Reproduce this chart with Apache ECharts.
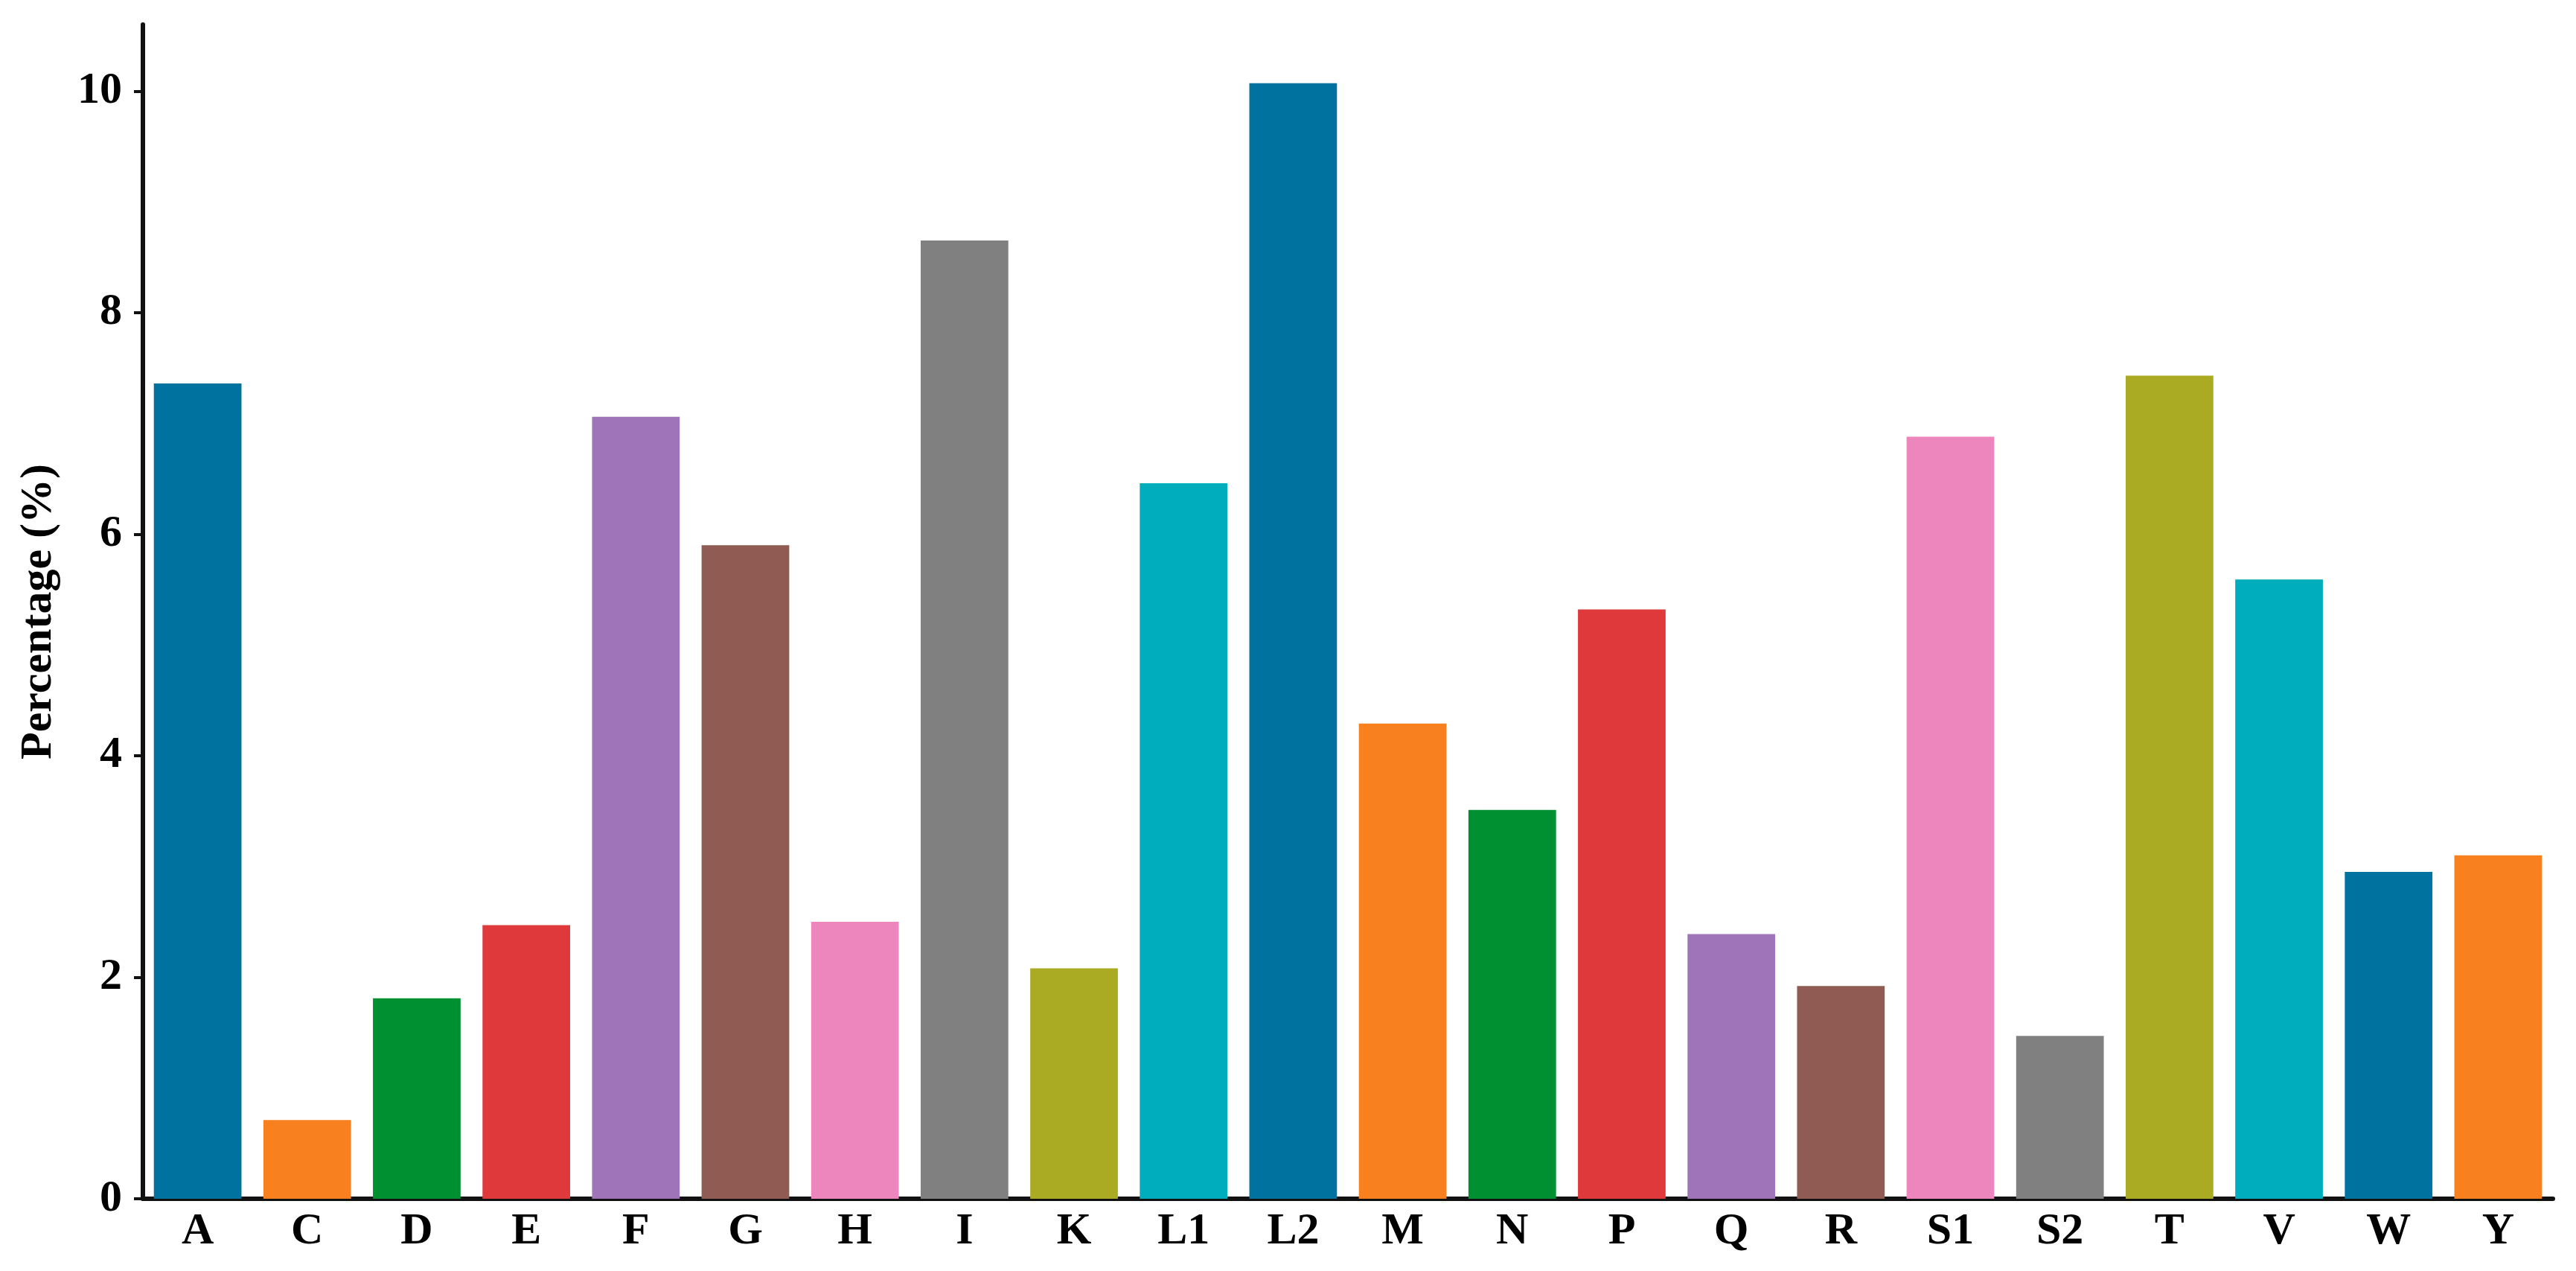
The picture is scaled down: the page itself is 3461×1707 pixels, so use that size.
<!DOCTYPE html>
<html>
<head>
<meta charset="utf-8">
<script src="https://cdn.jsdelivr.net/npm/echarts@6/dist/echarts.min.js"></script>
<style>
    html, body { margin: 0; padding: 0; background: #fff; }
    #chart { width: 3461px; height: 1707px; }
</style>
</head>
<body>
<div id="chart"></div>
<script>
const categories = ['A', 'C', 'D', 'E', 'F', 'G', 'H', 'I', 'K', 'L1', 'L2',
    'M', 'N', 'P', 'Q', 'R', 'S1', 'S2', 'T', 'V', 'W', 'Y'];
const percentages = [7.36, 0.71, 1.81, 2.47, 7.06, 5.90, 2.50, 8.65, 2.08, 6.46, 10.07,
    4.29, 3.51, 5.32, 2.39, 1.92, 6.88, 1.47, 7.43, 5.59, 2.95, 3.10];
const yTicks = [0, 2, 4, 6, 8, 10];
const palette = ['#0072a0', '#f8801e', '#008f31', '#e0393c', '#a074b8',
    '#8f5b52', '#ee86be', '#808080', '#aaab22', '#00adbc'];

const chart = echarts.init(document.getElementById('chart'));
const font = "'Liberation Serif', 'Times New Roman', serif";

const options = {
    animation: false,
    color: palette,
    grid: {
        left: 192,
        right: 31,
        top: 33,
        bottom: 97
    },
    xAxis: {
        type: 'category',
        data: categories,
        boundaryGap: true,
        axisLine: { lineStyle: { color: '#111', width: 6 } },
        axisTick: { alignWithLabel: true, length: 12, lineStyle: { color: '#111', width: 4 } },
        axisLabel: {
            margin: 14,
            color: '#000',
            fontFamily: font,
            fontWeight: 'bold',
            fontSize: 60
        }
    },
    yAxis: {
        type: 'value',
        min: 0,
        max: 10.6,
        interval: 2,
        name: 'Percentage (%)',
        nameLocation: 'middle',
        nameGap: 110,
        nameTextStyle: {
            color: '#000',
            fontFamily: font,
            fontWeight: 'bold',
            fontSize: 60
        },
        splitLine: { show: false },
        axisLine: { show: true, lineStyle: { color: '#111', width: 6 } },
        axisTick: {
            show: true,
            length: 12,
            customValues: yTicks,
            lineStyle: { color: '#111', width: 4 }
        },
        axisLabel: {
            margin: 28,
            customValues: yTicks,
            color: '#000',
            fontFamily: font,
            fontWeight: 'bold',
            fontSize: 60
        }
    },
    series: [{
        type: 'bar',
        colorBy: 'data',
        barCategoryGap: '20%',
        data: percentages
    }]
};

chart.setOption(options);
</script>
</body>
</html>
